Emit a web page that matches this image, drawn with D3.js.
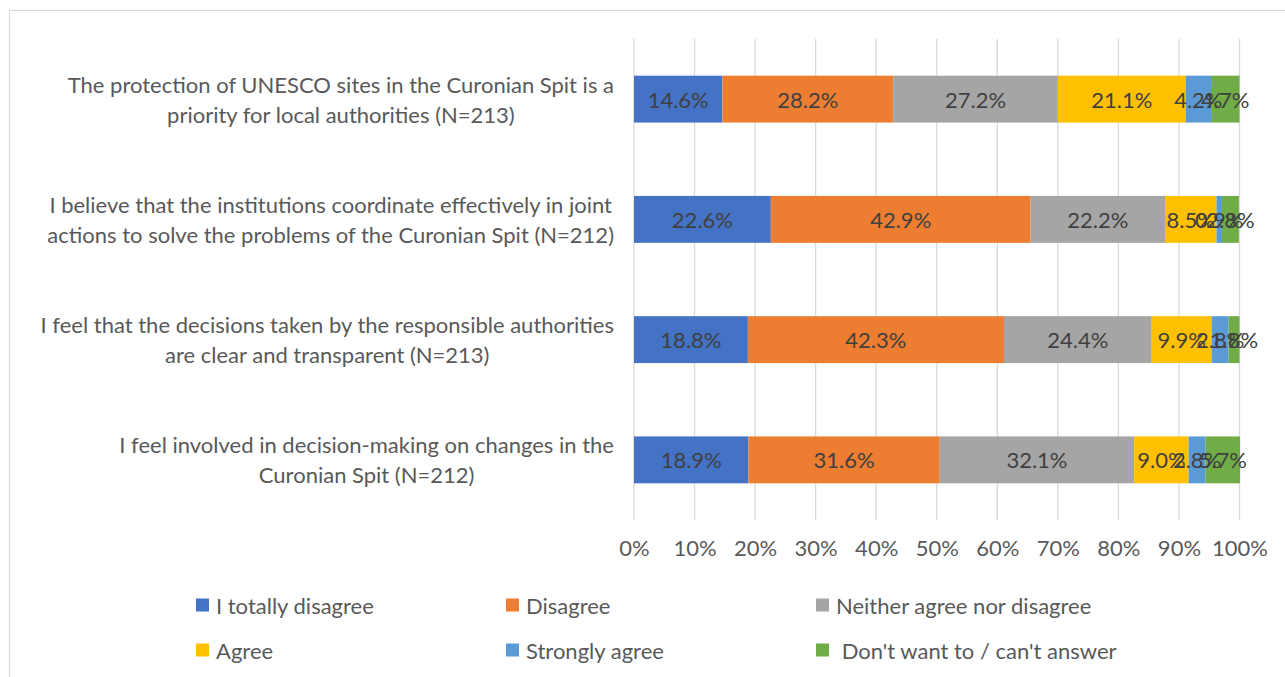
<!DOCTYPE html>
<html>
<head>
<meta charset="utf-8">
<script src="https://cdn.jsdelivr.net/npm/d3@7"></script>
<style>
  html, body { margin: 0; padding: 0; background: #fff; }
  svg { display: block; font-family: "Lato", "Open Sans", sans-serif; }
</style>
</head>
<body>
<svg id="chart" width="1285" height="677"></svg>
<script>
// Survey statements (each item is split into its displayed lines)
const categories = [
  ["The protection of UNESCO sites in the Curonian Spit is a", "priority for local authorities (N=213)"],
  ["I believe that the institutions coordinate effectively in joint", "actions to solve the problems of the Curonian Spit (N=212)"],
  ["I feel that the decisions taken by the responsible authorities", "are clear and transparent (N=213)"],
  ["I feel involved in decision-making on changes in the", "Curonian Spit (N=212)"]
];

const seriesNames = [
  "I totally disagree",
  "Disagree",
  "Neither agree nor disagree",
  "Agree",
  "Strongly agree",
  " Don't want to / can't answer"
];

// Share of answers (%) per statement, in series order
const totallyDisagree = [14.6, 22.6, 18.8, 18.9];
const disagree        = [28.2, 42.9, 42.3, 31.6];
const neither         = [27.2, 22.2, 24.4, 32.1];
const agree           = [21.1, 8.5, 9.9, 9.0];
const stronglyAgree   = [4.2, 0.9, 2.8, 2.8];
const cantAnswer      = [4.7, 2.8, 1.8, 5.7];

const tickValues = [0, 10, 20, 30, 40, 50, 60, 70, 80, 90, 100];

const colors = ["#4472C4", "#ED7D31", "#A5A5A5", "#FFC000", "#5B9BD5", "#70AD47"];

const seriesValues = [totallyDisagree, disagree, neither, agree, stronglyAgree, cantAnswer];

const FONT_SIZE = 22;

const svg = d3.select("#chart");

// chart area frame
svg.append("rect")
  .attr("x", 9.5).attr("y", 10.5)
  .attr("width", 1290).attr("height", 700)
  .attr("fill", "none").attr("stroke", "#d9d9d9").attr("stroke-width", 1.2);

const plot = { left: 634, right: 1239.5, top: 39, bottom: 520 };

const x = d3.scaleLinear().domain([0, 100]).range([plot.left, plot.right]);
const y = d3.scaleBand()
  .domain(d3.range(categories.length))
  .range([plot.top, plot.bottom])
  .paddingInner(0.61)
  .paddingOuter(0.305);

// vertical gridlines
svg.append("g")
  .selectAll("line")
  .data(tickValues)
  .join("line")
  .attr("x1", d => x(d)).attr("x2", d => x(d))
  .attr("y1", plot.top).attr("y2", plot.bottom)
  .attr("stroke", "#d9d9d9").attr("stroke-width", 1.3);

// x-axis tick labels
const xAxis = d3.axisBottom(x)
  .tickValues(tickValues)
  .tickFormat(d => d + "%")
  .tickSize(0)
  .tickPadding(0);
const axisG = svg.append("g")
  .attr("transform", `translate(0, 540)`)
  .call(xAxis);
axisG.select(".domain").remove();
axisG.selectAll("text")
  .attr("font-family", "Lato, 'Open Sans', sans-serif")
  .attr("font-size", FONT_SIZE)
  .attr("fill", "#595959")
  .attr("dy", "0.72em");

// stacked segments
const stackData = categories.map((c, i) => {
  const row = { idx: i };
  seriesValues.forEach((vals, s) => { row["s" + s] = vals[i]; });
  return row;
});
const stack = d3.stack().keys(seriesValues.map((_, s) => "s" + s));
const layers = stack(stackData);

const layerG = svg.append("g")
  .selectAll("g")
  .data(layers)
  .join("g")
  .attr("fill", (d, i) => colors[i]);

layerG.selectAll("rect")
  .data(d => d)
  .join("rect")
  .attr("x", d => x(d[0]))
  .attr("width", d => x(d[1]) - x(d[0]))
  .attr("y", (d, i) => y(i))
  .attr("height", y.bandwidth());

// value labels centred on their segments
const labelG = svg.append("g");
layers.forEach(layer => {
  layer.forEach((d, i) => {
    const v = d[1] - d[0];
    labelG.append("text")
      .attr("x", x((d[0] + d[1]) / 2))
      .attr("y", y(i) + y.bandwidth() / 2)
      .attr("text-anchor", "middle")
      .attr("dominant-baseline", "central")
      .attr("font-size", FONT_SIZE)
      .attr("fill", "#404040")
      .text(v.toFixed(1) + "%");
  });
});

// category labels: centred block whose right edge sits next to the plot
const catG = svg.append("g");
const lineGap = 30;
const labelRight = 614;
categories.forEach((lines, i) => {
  const cy = y(i) + y.bandwidth() / 2;
  const texts = lines.map((ln, k) =>
    catG.append("text")
      .attr("y", cy + (k - (lines.length - 1) / 2) * lineGap)
      .attr("dominant-baseline", "central")
      .attr("text-anchor", "middle")
      .attr("font-size", FONT_SIZE)
      .attr("fill", "#595959")
      .text(ln)
  );
  const maxW = d3.max(texts, t => t.node().getComputedTextLength());
  texts.forEach(t => t.attr("x", labelRight - maxW / 2));
});

// legend
const legendPos = [
  [196, 605], [506, 605], [816, 605],
  [196, 650], [506, 650], [816, 650]
];
const legG = svg.append("g");
seriesNames.forEach((name, i) => {
  const [lx, ly] = legendPos[i];
  legG.append("rect")
    .attr("x", lx).attr("y", ly - 6.5)
    .attr("width", 13).attr("height", 13)
    .attr("fill", colors[i]);
  legG.append("text")
    .attr("x", lx + 20).attr("y", ly)
    .attr("dominant-baseline", "central")
    .attr("font-size", FONT_SIZE)
    .attr("fill", "#595959")
    .style("white-space", "pre")
    .text(name);
});
</script>
</body>
</html>
